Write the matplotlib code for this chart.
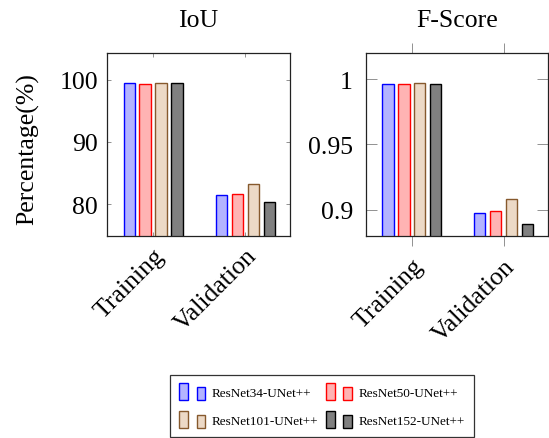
import numpy as np
import matplotlib
matplotlib.use('Agg')
import matplotlib.pyplot as plt
from matplotlib.patches import Patch, Rectangle
from matplotlib.legend_handler import HandlerBase

plt.rcParams.update({"font.family": "serif",
                     "font.serif": ["Liberation Serif", "DejaVu Serif"],
                     "font.size": 18.5})

# --- Data ---
phases = ['Training', 'Validation']
models = ['ResNet34-UNet++', 'ResNet50-UNet++', 'ResNet101-UNet++', 'ResNet152-UNet++']
iou_train = [99.4, 99.3, 99.5, 99.4]
iou_val = [81.4, 81.6, 83.2, 80.4]
fs_train = [0.9962, 0.9962, 0.9972, 0.9962]
fs_val = [0.8972, 0.8990, 0.9079, 0.8887]

fills = ['#b3b3ff', '#ffb3b3', '#ecd9c6', '#808080']
edges = ['#0000ff', '#ff0000', '#86592d', '#000000']


class DoubleBarHandler(HandlerBase):
    """pgfplots-style ybar legend image: a tall bar and a shorter one."""
    def create_artists(self, legend, orig_handle, xdescent, ydescent,
                       width, height, fontsize, trans):
        fc = orig_handle.get_facecolor()
        ec = orig_handle.get_edgecolor()
        w = width / 3.0
        r1 = Rectangle((-xdescent, -ydescent), w, height, fc=fc, ec=ec, lw=1.0,
                       transform=trans)
        r2 = Rectangle((-xdescent + 2 * w, -ydescent), w, height * 0.77, fc=fc, ec=ec,
                       lw=1.0, transform=trans)
        return [r1, r2]


fig = plt.figure(figsize=(5.49, 4.39), dpi=100)
ax1 = fig.add_axes([0.1949, 0.4601, 0.3333, 0.4169])
ax2 = fig.add_axes([0.6667, 0.4601, 0.3315, 0.4169])

x = np.arange(len(phases))
bw, pitch = 0.122, 0.173

for ax, train, val in [(ax1, iou_train, iou_val), (ax2, fs_train, fs_val)]:
    for k in range(len(models)):
        ax.bar(x + (k - 1.5) * pitch, [train[k], val[k]], width=bw,
               color=fills[k], edgecolor=edges[k], linewidth=1.0, zorder=2)
    ax.set_xlim(-0.5, 1.485)
    ax.set_xticks(x)
    ax.set_xticklabels(phases, rotation=45, ha='right', va='top', rotation_mode='anchor')
    for s in ax.spines.values():
        s.set_linewidth(0.9)
        s.set_color('#222222')

# IoU panel
ax1.set_ylim(74.85, 104.3)
ax1.set_yticks([80, 90, 100])
ax1.tick_params(axis='both', which='both', direction='in', length=3, width=0.6,
                color='0.5', top=True, right=True)
ax1.tick_params(axis='y', pad=6.5)
ax1.tick_params(axis='x', pad=6)

# F-Score panel
ax2.set_ylim(0.8797, 1.0202)
ax2.set_yticks([0.9, 0.95, 1.0])
ax2.set_yticklabels(['0.9', '0.95', '1'])
ax2.tick_params(axis='y', direction='in', length=8, width=0.6, color='0.5',
                right=True, pad=9.4)
ax2.tick_params(axis='x', direction='out', length=7.5, width=0.6, color='0.5',
                top=True, pad=6)

ax1.text(0.5, 1.1475, 'IoU', transform=ax1.transAxes, ha='center', va='baseline')
ax2.text(0.5, 1.1475, 'F-Score', transform=ax2.transAxes, ha='center', va='baseline')
fig.text(28 / 549, 1 - 149 / 439, 'Percentage(%)', rotation=90, ha='center', va='center')

# legend rows read left to right: 34, 50 / 101, 152
order = [0, 2, 1, 3]
handles = [Patch(facecolor=fills[k], edgecolor=edges[k]) for k in order]
labels = [models[k] for k in order]
leg = fig.legend(handles, labels, ncol=2, loc='upper left',
                 bbox_to_anchor=(170 / 549, 1 - 375.5 / 439), fontsize=9.5,
                 handler_map={Patch: DoubleBarHandler()},
                 handlelength=2.0, handleheight=1.6, handletextpad=0.5,
                 columnspacing=0.55, labelspacing=0.8, borderpad=0.68,
                 borderaxespad=0, frameon=True, fancybox=False)
leg.get_frame().set_edgecolor('black')
leg.get_frame().set_linewidth(0.9)

fig.savefig('out.png', dpi=100, facecolor='white')
